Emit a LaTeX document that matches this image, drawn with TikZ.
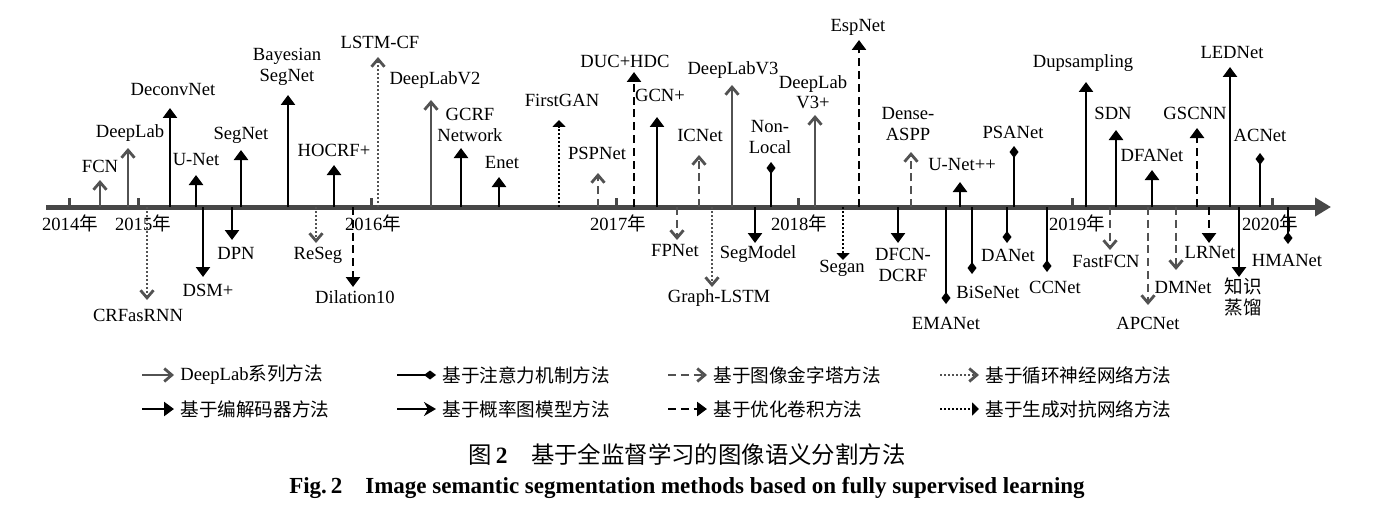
\documentclass[tikz,border=0pt]{standalone}
\usepackage{fontspec}
\setmainfont{Liberation Serif}
\newfontfamily\cjk{Noto Sans CJK SC}
\usetikzlibrary{arrows.meta,positioning}

\begin{document}
\begin{tikzpicture}[
  x=0.5pt, y=-0.5pt,
  font=\fontsize{9.3}{10.2}\selectfont,
  lbl/.style={inner sep=0pt, align=center},
  leg/.style={inner sep=0pt, anchor=west, font=\fontsize{9.3}{10}\selectfont},
  axis/.style={draw=black!72, line width=2.5pt, -{Triangle[length=8pt,width=9pt]}},
  tick/.style={draw=black!72, line width=1.5pt},
  deeplab/.style={draw=black!68, line width=1.2pt, -{Straight Barb[length=3.8pt,width=6.5pt,line width=1.4pt]}},
  pyramid/.style={deeplab, dash pattern=on 4pt off 2.4pt},
  rnn/.style={deeplab, dash pattern=on 1pt off 1pt},
  encdec/.style={draw=black, line width=1.4pt, -{Triangle[length=5pt,width=7pt]}},
  prob/.style={draw=black, line width=1.4pt, -{Stealth[length=6pt,width=7pt]}},
  optconv/.style={encdec, dash pattern=on 4pt off 2.4pt},
  gan/.style={encdec, dash pattern=on 1pt off 1pt, -{Triangle[length=3.5pt,width=6.5pt]}},
  attn/.style={draw=black, line width=1.4pt, -{Diamond[length=6pt,width=4.5pt]}}
]
  \useasboundingbox (0,0) rectangle (1391,508);

  % time axis
  \coordinate (ax-s) at (46,207);
  \coordinate (ax-e) at (1331,207);
  \draw[axis] (ax-s) -- (ax-e);
  \foreach \x/\lx/\yr in {69/70/2014, 138/143/2015, 371/373/2016, 616/618/2017,
                          798/799/2018, 1072/1077/2019, 1272/1270/2020} {
    \draw[tick] (\x,198) -- (\x,207);
    \node[lbl] (y\yr) at (\lx,223) {\yr{\cjk 年}};
  }

  % DeepLab series
  \foreach \x/\y/\lx/\ly/\n/\t in {100/180/100/166/fcn/FCN, 128/148/130/133/dl/DeepLab,
      431/100/435/80/dlv2/DeepLabV2, 732/85/733/70/dlv3/DeepLabV3,
      815/115/813/92/dlv3p/{DeepLab\\V3+}} {
    \coordinate (\n-b) at (\x,207);
    \coordinate (\n-t) at (\x,\y);
    \node[lbl] (\n) at (\lx,\ly) {\t};
    \draw[deeplab] (\n-b) -- (\n-t);
  }

  % encoder-decoder and probabilistic models
  \foreach \x/\y/\lx/\ly/\n/\t in {170/108/173/90/deconv/DeconvNet, 196/175/196/160/unet/U-Net,
      241/150/241/135/segnet/SegNet, 288/95/287/67/bseg/{Bayesian\\SegNet},
      334/165/334/150/hocrf/HOCRF+, 461/148/470/125/gcrf/{GCRF\\Network},
      499/177/502/162/enet/Enet, 657/117/660/95/gcn/GCN+, 960/182/962/165/unetpp/U-Net++,
      1086/82/1083/63/dups/Dupsampling, 1116/130/1113/113/sdn/SDN,
      1152/170/1152/155/dfa/DFANet, 1230/67/1232/53/led/LEDNet,
      203/277/208/290/dsm/DSM+, 232/240/236/253/dpn/DPN, 755/243/758/254/segm/SegModel,
      898/243/903/265/dfcn/{DFCN-\\DCRF}, 1239/277/1243/297/kd/{{\cjk 知识}\\{\cjk 蒸馏}}} {
    \coordinate (\n-b) at (\x,207);
    \coordinate (\n-t) at (\x,\y);
    \node[lbl] (\n) at (\lx,\ly) {\t};
    \draw[encdec] (\n-b) -- (\n-t);
  }

  % attention
  \foreach \x/\y/\lx/\ly/\n/\t in {771/162/770/137/nonl/{Non-\\Local}, 1014/146/1013/132/psa/PSANet,
      1260/153/1260/135/acn/ACNet, 946/304/946/323/ema/EMANet, 972/274/988/292/bise/BiSeNet,
      1007/243/1008/255/dan/DANet, 1047/272/1055/287/ccn/CCNet, 1288/244/1287/260/hma/HMANet} {
    \coordinate (\n-b) at (\x,207);
    \coordinate (\n-t) at (\x,\y);
    \node[lbl] (\n) at (\lx,\ly) {\t};
    \draw[attn] (\n-b) -- (\n-t);
  }

  % image pyramid
  \foreach \x/\y/\lx/\ly/\n/\t in {598/173/597/153/psp/PSPNet, 699/155/700/135/icn/ICNet,
      911/152/908/124/daspp/{Dense-\\ASPP}, 677/240/675/250/fpn/FPNet,
      1110/250/1106/261/ffcn/FastFCN, 1148/305/1148/323/apc/APCNet,
      1176/270/1183/287/dmn/DMNet} {
    \coordinate (\n-b) at (\x,207);
    \coordinate (\n-t) at (\x,\y);
    \node[lbl] (\n) at (\lx,\ly) {\t};
    \draw[pyramid] (\n-b) -- (\n-t);
  }

  % recurrent networks
  \foreach \x/\y/\lx/\ly/\n/\t in {378/57/380/42/lstmcf/LSTM-CF, 147/300/138/315/crf/CRFasRNN,
      316/243/318/255/reseg/ReSeg, 712/287/719/298/glstm/Graph-LSTM} {
    \coordinate (\n-b) at (\x,207);
    \coordinate (\n-t) at (\x,\y);
    \node[lbl] (\n) at (\lx,\ly) {\t};
    \draw[rnn] (\n-b) -- (\n-t);
  }

  % optimised convolution
  \foreach \x/\y/\lx/\ly/\n/\t in {634/72/625/61/duc/DUC+HDC, 859/40/858/27/esp/EspNet,
      1197/128/1195/113/gsc/GSCNN, 353/287/355/297/dil/Dilation10, 1209/243/1210/252/lrn/LRNet} {
    \coordinate (\n-b) at (\x,207);
    \coordinate (\n-t) at (\x,\y);
    \node[lbl] (\n) at (\lx,\ly) {\t};
    \draw[optconv] (\n-b) -- (\n-t);
  }

  % adversarial
  \foreach \x/\y/\lx/\ly/\n/\t in {559/120/562/100/fgan/FirstGAN, 843/260/842/268/segan/Segan} {
    \coordinate (\n-b) at (\x,207);
    \coordinate (\n-t) at (\x,\y);
    \node[lbl] (\n) at (\lx,\ly) {\t};
    \draw[gan] (\n-b) -- (\n-t);
  }

  % legend
  \foreach \x/\lx/\y/\s/\n/\t in {142/180/375/deeplab/lg1/{DeepLab{\cjk 系列方法}},
      397/442/375/attn/lg2/{\cjk 基于注意力机制方法},
      668/713/375/pyramid/lg3/{\cjk 基于图像金字塔方法},
      940/985/375/rnn/lg4/{\cjk 基于循环神经网络方法},
      142/180/409/encdec/lg5/{\cjk 基于编解码器方法},
      397/442/409/prob/lg6/{\cjk 基于概率图模型方法},
      668/713/409/optconv/lg7/{\cjk 基于优化卷积方法},
      940/985/409/gan/lg8/{\cjk 基于生成对抗网络方法}} {
    \coordinate (\n-a) at (\x,\y);
    \node[leg] (\n) at (\lx,\y) {\t};
    \draw[style=\s, shorten >=3pt] (\n-a) -- (\n.west);
  }

  % caption
  \node[lbl, font=\cjk\fontsize{11.7}{13}\selectfont] (cap-zh) at (687,455)
    {图\,{\rmfamily\bfseries 2}\quad 基于全监督学习的图像语义分割方法};
  \node[lbl, font=\bfseries\fontsize{11.5}{13}\selectfont] (cap-en) at (687,488)
    {Fig.\,2\quad Image semantic segmentation methods based on fully supervised learning};
\end{tikzpicture}
\end{document}
